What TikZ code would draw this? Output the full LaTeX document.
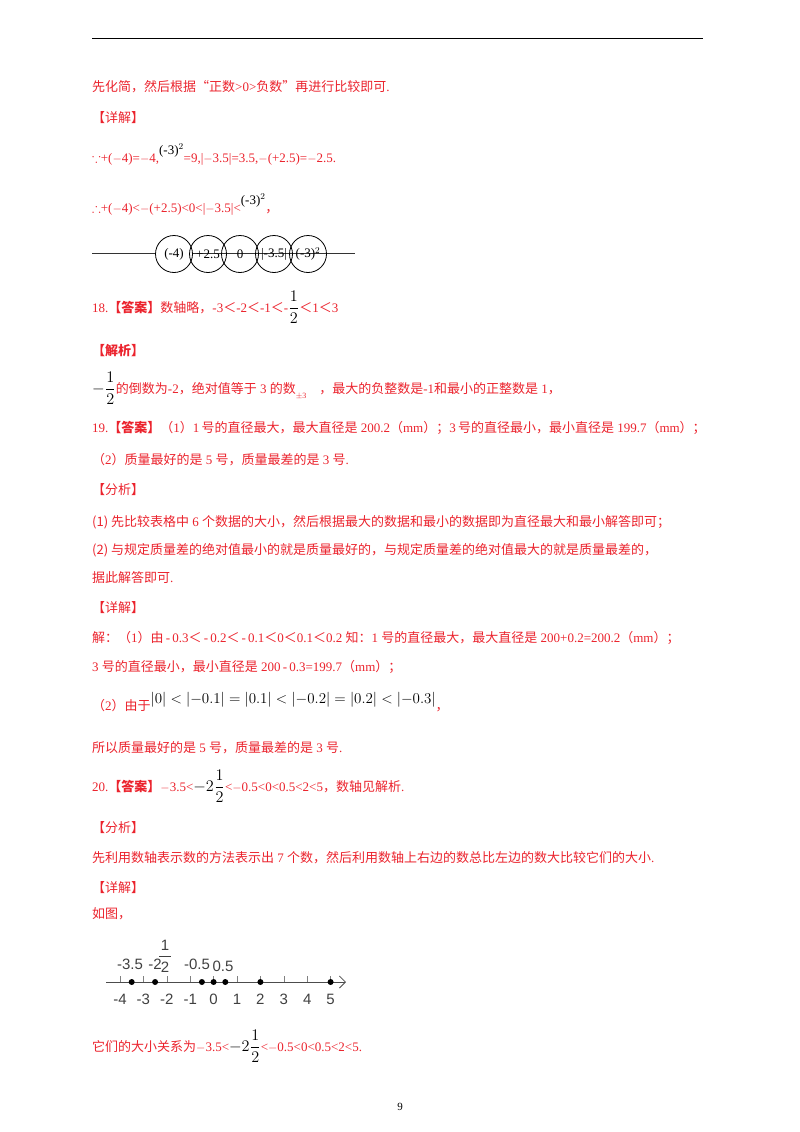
\documentclass[tikz,border=0pt]{standalone}
\usepackage{amsmath,amssymb,graphicx}
\usepackage{fontspec}
\setmainfont{Liberation Serif}
\newfontfamily\zhf{Noto Sans CJK SC}
\newfontfamily\axf{Liberation Sans}
\newcommand{\zh}[1]{{\zhf #1}}
\newcommand{\bfr}[1]{\textcolor{black}{\scalebox{1.35}{$#1$}}}
\usetikzlibrary{arrows.meta}
\definecolor{rd}{RGB}{235,35,45}
\begin{document}
\begin{tikzpicture}[x=1pt,y=-1pt,
  t/.style={anchor=base west,inner sep=0pt,text=rd,font=\fontsize{13}{15}\selectfont},
  ax/.style={anchor=base,inner sep=0pt,text=black!75,font=\axf\fontsize{15}{17}\selectfont},
  dot/.style={circle,fill=black,inner sep=0pt,minimum size=6pt},
  bub/.style={circle,draw,thick,minimum size=37pt,inner sep=0pt,font=\fontsize{13}{14}\selectfont}]
\useasboundingbox (0,0) rectangle (800,1132);
\draw[thick] (92,38) -- (703,38);
\node[t] (l1) at (92,92) {\zh{先化简，然后根据“正数}>0>\zh{负数”再进行比较即可}.};
\node[t] (l2) at (92,122) {\zh{【详解】}};
\node[t] (l3) at (92,162) {$\because$+($-$4)=$-$4,\raisebox{8pt}{\textcolor{black}{(-3)$^2$}}=9,|$-$3.5|=3.5,$-$(+2.5)=$-$2.5.};
\node[t] (l4) at (92,212) {$\therefore$+($-$4)<$-$(+2.5)<0<|$-$3.5|<\raisebox{8pt}{\textcolor{black}{(-3)$^2$}}\zh{，}};
\coordinate (la) at (92,253); \coordinate (lb) at (355,253);
\draw[thick,black!80] (la) -- (lb);
\node[bub,fill=white] (b1) at (174,254) {(-4)};
\node[bub] (b2) at (208,254) {+2.5};
\node[bub] (b3) at (240,254) {0};
\node[bub] (b4) at (274,254) {|-3.5|};
\node[bub] (b5) at (308,254) {(-3)$^2$};
\node[t] (l5) at (92,312) {18.\zh{\bfseries【答案】}\zh{数轴略，}-3\zh{＜}-2\zh{＜}-1\zh{＜}-\bfr{\dfrac{1}{2}}\zh{＜}1\zh{＜}3};
\node[t] (l6) at (92,355) {\zh{\bfseries【解析】}};
\node[t] (l7) at (92,393) {\bfr{-\dfrac{1}{2}}\zh{的倒数为}-2\zh{，绝对值等于} 3 \zh{的数}\raisebox{-5pt}{\footnotesize$\pm$3}\quad\zh{，最大的负整数是}-1\zh{和最小的正整数是} 1\zh{，}};
\node[t] (l8) at (92,432) {19.\zh{\bfseries【答案】}\zh{（}1\zh{）}1\,\zh{号的直径最大，最大直径是} 200.2\zh{（}mm\zh{）；}3\,\zh{号的直径最小，最小直径是} 199.7\zh{（}mm\zh{）；}};
\node[t] (l9) at (92,464) {\zh{（}2\zh{）质量最好的是} 5 \zh{号，质量最差的是} 3 \zh{号}.};
\node[t] (l10) at (92,494) {\zh{【分析】}};
\node[t] (l11) at (92,526) {\zh{(1) 先比较表格中} 6 \zh{个数据的大小，然后根据最大的数据和最小的数据即为直径最大和最小解答即可；}};
\node[t] (l12) at (92,554) {\zh{(2) 与规定质量差的绝对值最小的就是质量最好的，与规定质量差的绝对值最大的就是质量最差的，}};
\node[t] (l13) at (92,582) {\zh{据此解答即可}.};
\node[t] (l14) at (92,612) {\zh{【详解】}};
\node[t] (l15) at (92,642) {\zh{解：（}1\zh{）由}\,-\,0.3\zh{＜}\,-\,0.2\zh{＜}\,-\,0.1\zh{＜}0\zh{＜}0.1\zh{＜}0.2 \zh{知：}1 \zh{号的直径最大，最大直径是} 200+0.2=200.2\zh{（}mm\zh{）；}};
\node[t] (l16) at (92,671) {3 \zh{号的直径最小，最小直径是} 200\,-\,0.3=199.7\zh{（}mm\zh{）；}};
\node[t] (l17) at (92,710) {\zh{（}2\zh{）由于}\raisebox{7pt}{\textcolor{black}{\scalebox{1.25}{$|0|<|{-0.1}|=|0.1|<|{-0.2}|=|0.2|<|{-0.3}|$}}}\zh{，}};
\node[t] (l18) at (92,752) {\zh{所以质量最好的是} 5 \zh{号，质量最差的是} 3 \zh{号}.};
\node[t] (l19) at (92,791) {20.\zh{\bfseries【答案】}\textbf{$-$}3.5<\bfr{-2\dfrac{1}{2}}<$-$0.5<0<0.5<2<5\zh{，数轴见解析}.};
\node[t] (l20) at (92,832) {\zh{【分析】}};
\node[t] (l21) at (92,862) {\zh{先利用数轴表示数的方法表示出} 7 \zh{个数，然后利用数轴上右边的数总比左边的数大比较它们的大小}.};
\node[t] (l22) at (92,892) {\zh{【详解】}};
\node[t] (l23) at (92,918) {\zh{如图，}};
% number line
\coordinate (na) at (106,982); \coordinate (nb) at (346,982);
\draw[thick,black!70,-{Straight Barb[length=6pt]}] (na) -- (nb);
\foreach \i in {-4,...,5}{
  \draw[black!50] ({120+(\i+4)*23.4},976) -- ({120+(\i+4)*23.4},982);
  \node[ax] at ({120+(\i+4)*23.4},1004) {\i};}
\foreach \v in {-3.5,-2.5,-0.5,0,0.5,2,5}
  \node[dot] at ({120+(\v+4)*23.4},982) {};
\node[ax] (a1) at (130,969) {-3.5};
\node[ax] (a2) at (155,969) {-2};
\node[ax] (a3) at (165,950) {1};
\draw[black!75,thick] (159,956) -- (171,956);
\node[ax] (a4) at (165,972) {2};
\node[ax] (a5) at (197,969) {-0.5};
\node[ax] (a6) at (223,971) {0.5};
\node[t] (l24) at (92,1051) {\zh{它们的大小关系为}\textbf{$-$}3.5<\bfr{-2\dfrac{1}{2}}<$-$0.5<0<0.5<2<5.};
\node[anchor=base,inner sep=0pt,font=\fontsize{11}{12}\selectfont] (pg) at (400,1110) {9};
\end{tikzpicture}
\end{document}
